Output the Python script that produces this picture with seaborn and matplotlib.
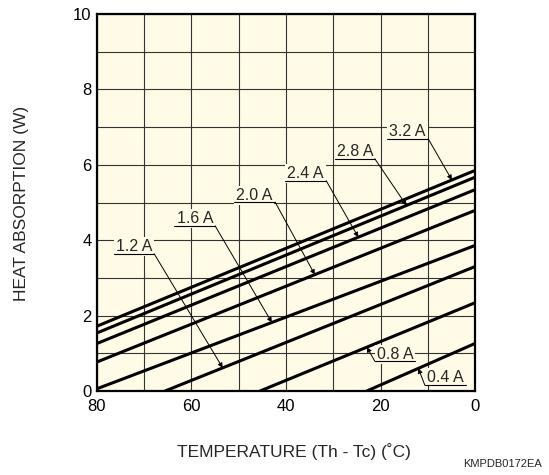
import numpy as np
import pandas as pd
import matplotlib
matplotlib.use('Agg')
import matplotlib.pyplot as plt
import seaborn as sns

# heat absorption curves: (temperature, watts) end points
currents = ['3.2 A', '2.8 A', '2.4 A', '2.0 A', '1.6 A', '1.2 A', '0.8 A', '0.4 A']
temp_start = [80, 80, 80, 80, 80, 65.6, 45.5, 22.9]
q_start = [1.72, 1.54, 1.26, 0.77, 0.06, 0.0, 0.0, 0.0]
temp_end = [0, 0, 0, 0, 0, 0, 0, 0]
q_end = [5.85, 5.67, 5.34, 4.79, 3.86, 3.30, 2.34, 1.26]

# label text positions, underline spans and arrow target temperatures
label_x = [14.3, 25.4, 35.9, 46.7, 59.3, 72.2, 16.9, 6.2]
label_y = [6.88, 6.35, 5.78, 5.18, 4.58, 3.84, 0.97, 0.37]
under_x0 = [18.7, 29.6, 40.2, 51.0, 63.7, 76.5, 21.2, 10.6]
under_x1 = [9.9, 21.2, 31.5, 42.3, 55.0, 67.9, 12.7, 1.8]
under_y = [6.69, 6.16, 5.58, 5.01, 4.38, 3.64, 0.79, 0.15]
lead_from = [9.9, 21.2, 31.5, 42.3, 55.0, 67.9, 21.2, 10.6]
arrow_x = [4.9, 14.5, 24.7, 33.9, 43.0, 53.4, 22.9, 12.0]

bg = '#fffbe6'

rows = []
for c, t0, q0, t1, q1 in zip(currents, temp_start, q_start, temp_end, q_end):
    rows.append({'current': c, 'temp': t0, 'q': q0})
    rows.append({'current': c, 'temp': t1, 'q': q1})
df = pd.DataFrame(rows)

sns.set_style('white')
plt.rcParams['font.family'] = ['Liberation Sans', 'DejaVu Sans']

fig = plt.figure(figsize=(5.49, 4.75), dpi=100)
ax = fig.add_axes([97 / 549, 1 - 391 / 475, 378 / 549, 377 / 475])
ax.set_facecolor(bg)

sns.lineplot(data=df, x='temp', y='q', hue='current', units='current',
             estimator=None, palette=['black'] * len(currents),
             linewidth=2.2, legend=False, ax=ax, zorder=3)

ax.set_xlim(80, 0)
ax.set_ylim(0, 10)
ax.set_xticks(np.arange(0, 81, 20))
ax.set_xticks(np.arange(0, 81, 10), minor=True)
ax.set_yticks(np.arange(0, 11, 2))
ax.set_yticks(np.arange(0, 11, 1), minor=True)
ax.grid(True, which='both', color='#333333', linewidth=0.8, zorder=1)
ax.set_axisbelow(True)
ax.tick_params(which='both', length=0, labelsize=12, colors='black')
ax.tick_params(axis='x', pad=6)
ax.tick_params(axis='y', pad=4)
ax.set_xlabel('')
ax.set_ylabel('')
for s in ax.spines.values():
    s.set_linewidth(1.6)
    s.set_color('black')

for i, c in enumerate(currents):
    sub = df[df['current'] == c].sort_values('temp')
    ty = np.interp(arrow_x[i], sub['temp'], sub['q'])
    ax.text(label_x[i], label_y[i], c, fontsize=11.5, ha='center', va='center',
            zorder=5, bbox=dict(boxstyle='square,pad=0.12', fc=bg, ec='none'))
    ax.plot([under_x0[i], under_x1[i]], [under_y[i], under_y[i]],
            color='black', linewidth=0.8, zorder=5)
    ax.annotate('', xy=(arrow_x[i], ty), xytext=(lead_from[i], under_y[i]),
                arrowprops=dict(arrowstyle='-|>', color='black', lw=0.7,
                                mutation_scale=7, shrinkA=0, shrinkB=0),
                zorder=5)

fig.text(22 / 549, 1 - 203 / 475, 'HEAT ABSORPTION (W)', rotation=90,
         ha='center', va='center', fontsize=12.5)
fig.text(294 / 549, 1 - 452 / 475, 'TEMPERATURE (Th - Tc) (˚C)',
         ha='center', va='center', fontsize=12.5)
fig.text(542 / 549, 1 - 464 / 475, 'KMPDB0172EA', ha='right', va='center',
         fontsize=8)

fig.savefig('out.png', dpi=100)
